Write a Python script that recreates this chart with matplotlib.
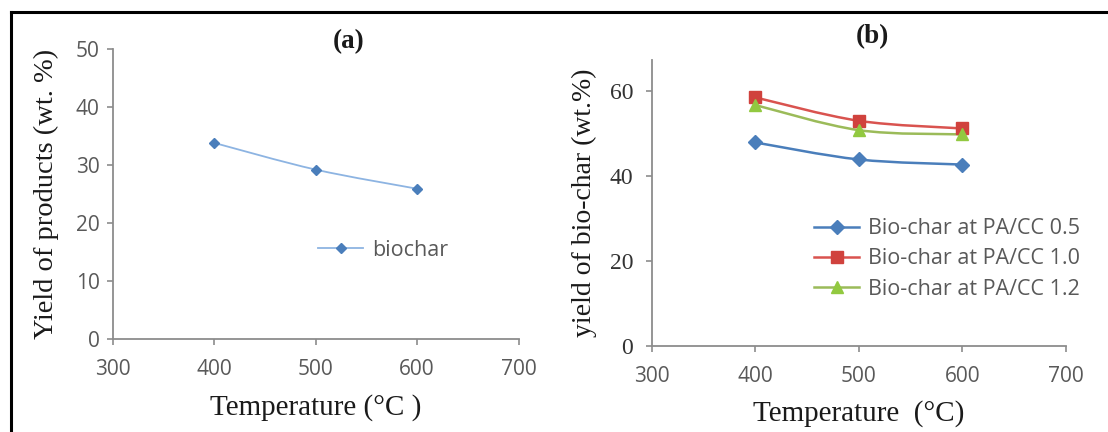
import matplotlib
matplotlib.use("Agg")
import matplotlib.pyplot as plt
from matplotlib.path import Path
from matplotlib.patches import PathPatch
from matplotlib.lines import Line2D
import numpy as np

# ---- data ----
temps = [400, 500, 600]
biochar_a = [33.8, 29.2, 25.9]
char_05 = [47.9, 43.9, 42.7]
char_10 = [58.5, 53.0, 51.2]
char_12 = [56.7, 50.8, 49.8]
labels_b = ["Bio-char at PA/CC 0.5", "Bio-char at PA/CC 1.0", "Bio-char at PA/CC 1.2"]
xticks = [300, 400, 500, 600, 700]
yticks_a = [0, 10, 20, 30, 40, 50]
yticks_b = [0, 20, 40, 60]

SANS = "Open Sans"
SERIF = "Liberation Serif"
TICKC = "#595959"
SPINEC = "#8c8c8c"
TXTC = "#1a1a1a"
W, H = 1108, 432


def smooth_path(x, y):
    pts = np.column_stack([x, y]).astype(float)
    n = len(pts)
    verts = [pts[0]]
    codes = [Path.MOVETO]
    for i in range(n - 1):
        p0 = pts[i - 1] if i > 0 else pts[i]
        p1 = pts[i]
        p2 = pts[i + 1]
        p3 = pts[i + 2] if i + 2 < n else pts[i + 1]
        c1 = p1 + (p2 - p0) / 6.0
        c2 = p2 - (p3 - p1) / 6.0
        verts += [c1, c2, p2]
        codes += [Path.CURVE4] * 3
    return Path(verts, codes)


def draw_series(ax, x, y, color, lw, marker, mcolor, ms):
    patch = PathPatch(smooth_path(x, y), facecolor="none", edgecolor=color, lw=lw,
                      capstyle="round", joinstyle="round", zorder=2)
    ax.add_patch(patch)
    ax.plot(x, y, linestyle="none", marker=marker, color=mcolor, markersize=ms,
            markeredgecolor=mcolor, zorder=3)
    return Line2D([0], [0], color=color, lw=lw, marker=marker, markersize=ms,
                  markerfacecolor=mcolor, markeredgecolor=mcolor)


def style_axes(ax):
    for s in ("top", "right"):
        ax.spines[s].set_visible(False)
    for s in ("left", "bottom"):
        ax.spines[s].set_color(SPINEC)
        ax.spines[s].set_linewidth(1.3)
    ax.tick_params(axis="both", colors=SPINEC, length=4.5, width=1.2, labelcolor=TICKC)
    ax.set_xlim(300, 700)
    ax.set_xticks(xticks)
    ax.tick_params(axis="x", pad=10)
    for t in ax.get_xticklabels():
        t.set_fontfamily(SANS)
        t.set_fontsize(15)


fig = plt.figure(figsize=(W / 100, H / 100), dpi=100)

# ---------- panel (a) ----------
ax1 = fig.add_axes([0.102, 0.2153, 0.366, 0.6713])
style_axes(ax1)
ax1.set_ylim(0, 50)
ax1.set_yticks(yticks_a)
ax1.tick_params(axis="y", pad=5)
for t in ax1.get_yticklabels():
    t.set_fontfamily(SANS)
    t.set_fontsize(15)
h = draw_series(ax1, temps, biochar_a, "#8db4e2", 1.3, "D", "#4a7ebb", 5.5)
fig.legend([h], ["biochar"], loc="center left", bbox_to_anchor=(318 / W, 1 - 250 / H),
           frameon=False, borderpad=0, borderaxespad=0, handlelength=2.1, handletextpad=0.4,
           prop={"family": SANS, "size": 15.5}, labelcolor=TICKC)
ax1.set_xlabel("Temperature (°C )", fontfamily=SERIF, fontsize=21, color=TXTC, labelpad=10)
ax1.set_ylabel("Yield of products (wt. %)", fontfamily=SERIF, fontsize=20.5, color=TXTC, labelpad=12)
fig.text(349 / W, 1 - 42 / H, "(a)", fontfamily=SERIF, fontsize=19.5, fontweight="bold",
         color=TXTC, ha="center", va="center")

# ---------- panel (b) ----------
ax2 = fig.add_axes([0.5884, 0.199, 0.3736, 0.662])
style_axes(ax2)
ax2.set_ylim(0, 67.3)
ax2.set_yticks(yticks_b)
ax2.tick_params(axis="y", pad=9)
for t in ax2.get_yticklabels():
    t.set_fontfamily(SERIF)
    t.set_fontsize(17)
    t.set_color("#333333")
h1 = draw_series(ax2, temps, char_05, "#4a7ebb", 1.8, "D", "#4a7ebb", 7.5)
h2 = draw_series(ax2, temps, char_10, "#d9534f", 1.8, "s", "#d0423d", 8.5)
h3 = draw_series(ax2, temps, char_12, "#9bbb59", 1.8, "^", "#92c940", 8.5)
fig.legend([h1, h2, h3], labels_b, loc="center left", bbox_to_anchor=(814 / W, 1 - 259 / H),
           frameon=False, borderpad=0, borderaxespad=0, handlelength=2.1, handletextpad=0.4,
           labelspacing=0.42, prop={"family": SANS, "size": 15.5}, labelcolor=TICKC)
ax2.set_xlabel("Temperature  (°C)", fontfamily=SERIF, fontsize=21, color=TXTC, labelpad=9)
ax2.set_ylabel("yield of bio-char (wt.%)", fontfamily=SERIF, fontsize=20, color=TXTC, labelpad=9)
fig.text(872 / W, 1 - 37 / H, "(b)", fontfamily=SERIF, fontsize=19.5, fontweight="bold",
         color=TXTC, ha="center", va="center")

# ---------- frame ----------
fx = 10.5 / W
fy = 1 - 12 / H
fig.add_artist(Line2D([fx, 1.0], [fy, fy], color="black", lw=2.2, transform=fig.transFigure))
fig.add_artist(Line2D([fx, fx], [0.0, fy], color="black", lw=2.2, transform=fig.transFigure))

fig.savefig("out.png", dpi=100)
